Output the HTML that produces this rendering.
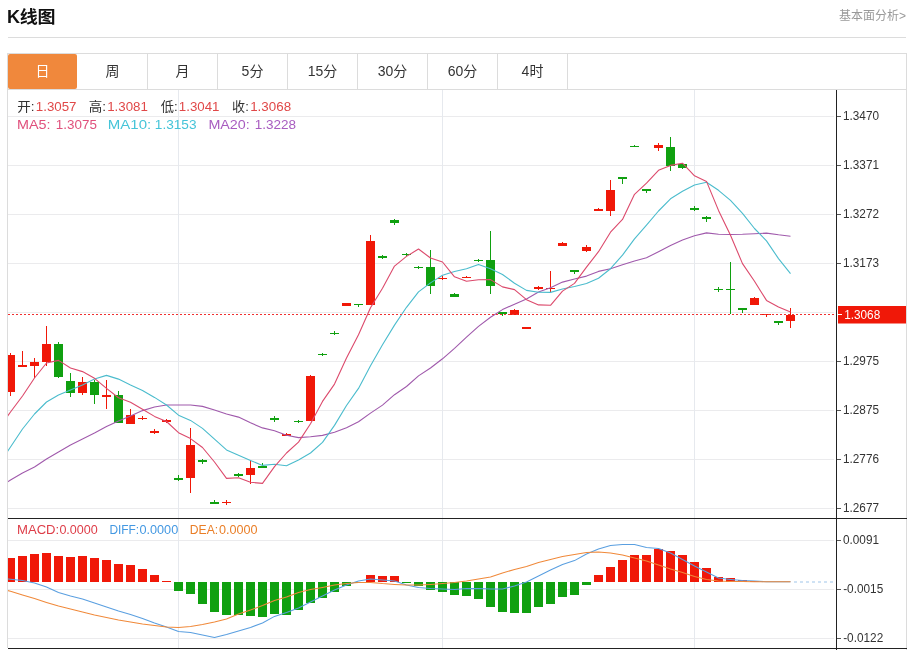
<!DOCTYPE html>
<html lang="zh-CN"><head><meta charset="utf-8"><title>K线图</title>
<style>
html,body{margin:0;padding:0;background:#fff}
body{width:910px;height:650px;position:relative;overflow:hidden;font-family:"Liberation Sans","Noto Sans CJK SC",sans-serif}
.title{position:absolute;left:7px;top:4px;font-size:18px;font-weight:bold;color:#111;line-height:26px;letter-spacing:-0.3px}
.more{position:absolute;right:4px;top:7px;font-size:12px;color:#999;line-height:18px}
.hr{position:absolute;left:8px;top:37px;width:898px;height:1px;background:#dcdcdc}
.tabs{position:absolute;left:7px;top:53px;width:898px;height:35px;border:1px solid #dcdcdc;background:#fff}
.tab{position:absolute;top:0;width:69px;height:35px;border-right:1px solid #dcdcdc;text-align:center;line-height:35px;font-size:14px;color:#333}
.tab.on{background:#f0883c;color:#fff;border-right:0;border-radius:2px;width:68.8px;height:34.5px}
</style></head><body>
<div class="title">K<span style="display:inline-block;transform:scaleY(.93);transform-origin:50% 88%">线图</span></div>
<div class="more">基本面分析&gt;</div>
<div class="hr"></div>
<div class="tabs">
<div class="tab on" style="left:0">日</div>
<div class="tab" style="left:70px">周</div>
<div class="tab" style="left:140px">月</div>
<div class="tab" style="left:210px">5分</div>
<div class="tab" style="left:280px">15分</div>
<div class="tab" style="left:350px">30分</div>
<div class="tab" style="left:420px">60分</div>
<div class="tab" style="left:490px">4时</div>
</div>
<svg width="910" height="650" viewBox="0 0 910 650" style="position:absolute;left:0;top:0" font-family="'Liberation Sans','Noto Sans CJK SC',sans-serif">
<defs><clipPath id="cm"><rect x="8" y="90" width="828" height="428"/></clipPath><clipPath id="cd"><rect x="8" y="519" width="828" height="129"/></clipPath></defs>
<path d="M8 116.5H834 M8 165.5H834 M8 214.5H834 M8 263.5H834 M8 312.5H834 M8 361.5H834 M8 410.5H834 M8 459.5H834 M8 508.5H834 M8 540.5H834 M8 589.5H834 M8 638.5H834" stroke="#ebebed" stroke-width="1" fill="none" shape-rendering="crispEdges"/>
<path d="M178.5 90V648 M442.5 90V648 M694.5 90V648" stroke="#e6e9ee" stroke-width="1" fill="none" shape-rendering="crispEdges"/>
<path d="M7.5 90V648M906.5 90V650" stroke="#dcdcdc" stroke-width="1" fill="none" shape-rendering="crispEdges"/>
<g clip-path="url(#cm)" shape-rendering="crispEdges">
<rect x="10" y="353" width="1" height="43" fill="#f01808"/>
<rect x="6" y="355" width="9" height="37" fill="#f01808"/>
<rect x="22" y="351" width="1" height="16" fill="#f01808"/>
<rect x="18" y="365" width="9" height="2" fill="#f01808"/>
<rect x="34" y="358" width="1" height="20" fill="#f01808"/>
<rect x="30" y="362" width="9" height="4" fill="#f01808"/>
<rect x="46" y="326" width="1" height="40" fill="#f01808"/>
<rect x="42" y="344" width="9" height="18" fill="#f01808"/>
<rect x="58" y="342" width="1" height="36" fill="#10a010"/>
<rect x="54" y="344" width="9" height="33" fill="#10a010"/>
<rect x="70" y="373" width="1" height="24" fill="#10a010"/>
<rect x="66" y="381" width="9" height="12" fill="#10a010"/>
<rect x="82" y="377" width="1" height="18" fill="#f01808"/>
<rect x="78" y="382" width="9" height="11" fill="#f01808"/>
<rect x="94" y="380" width="1" height="24" fill="#10a010"/>
<rect x="90" y="382" width="9" height="13" fill="#10a010"/>
<rect x="106" y="380" width="1" height="29" fill="#f01808"/>
<rect x="102" y="395" width="9" height="2" fill="#f01808"/>
<rect x="118" y="391" width="1" height="32" fill="#10a010"/>
<rect x="114" y="395" width="9" height="28" fill="#10a010"/>
<rect x="130" y="409" width="1" height="15" fill="#f01808"/>
<rect x="126" y="415" width="9" height="9" fill="#f01808"/>
<rect x="142" y="416" width="1" height="4" fill="#f01808"/>
<rect x="138" y="418" width="9" height="1" fill="#f01808"/>
<rect x="154" y="429" width="1" height="5" fill="#f01808"/>
<rect x="150" y="431" width="9" height="2" fill="#f01808"/>
<rect x="166" y="419" width="1" height="4" fill="#f01808"/>
<rect x="162" y="420" width="9" height="2" fill="#f01808"/>
<rect x="178" y="475" width="1" height="6" fill="#10a010"/>
<rect x="174" y="478" width="9" height="2" fill="#10a010"/>
<rect x="190" y="428" width="1" height="65" fill="#f01808"/>
<rect x="186" y="445" width="9" height="33" fill="#f01808"/>
<rect x="202" y="459" width="1" height="5" fill="#10a010"/>
<rect x="198" y="460" width="9" height="2" fill="#10a010"/>
<rect x="214" y="500" width="1" height="4" fill="#10a010"/>
<rect x="210" y="502" width="9" height="2" fill="#10a010"/>
<rect x="226" y="500" width="1" height="5" fill="#f01808"/>
<rect x="222" y="502" width="9" height="1" fill="#f01808"/>
<rect x="238" y="473" width="1" height="4" fill="#10a010"/>
<rect x="234" y="474" width="9" height="2" fill="#10a010"/>
<rect x="250" y="460" width="1" height="24" fill="#f01808"/>
<rect x="246" y="468" width="9" height="7" fill="#f01808"/>
<rect x="262" y="463" width="1" height="5" fill="#10a010"/>
<rect x="258" y="466" width="9" height="2" fill="#10a010"/>
<rect x="274" y="416" width="1" height="6" fill="#10a010"/>
<rect x="270" y="418" width="9" height="2" fill="#10a010"/>
<rect x="286" y="433" width="1" height="3" fill="#f01808"/>
<rect x="282" y="434" width="9" height="2" fill="#f01808"/>
<rect x="298" y="420" width="1" height="3" fill="#10a010"/>
<rect x="294" y="421" width="9" height="1" fill="#10a010"/>
<rect x="310" y="375" width="1" height="46" fill="#f01808"/>
<rect x="306" y="376" width="9" height="45" fill="#f01808"/>
<rect x="322" y="353" width="1" height="3" fill="#10a010"/>
<rect x="318" y="354" width="9" height="1" fill="#10a010"/>
<rect x="334" y="331" width="1" height="4" fill="#10a010"/>
<rect x="330" y="333" width="9" height="1" fill="#10a010"/>
<rect x="346" y="303" width="1" height="3" fill="#f01808"/>
<rect x="342" y="303" width="9" height="3" fill="#f01808"/>
<rect x="358" y="304" width="1" height="3" fill="#10a010"/>
<rect x="354" y="304" width="9" height="1" fill="#10a010"/>
<rect x="370" y="235" width="1" height="70" fill="#f01808"/>
<rect x="366" y="241" width="9" height="64" fill="#f01808"/>
<rect x="382" y="255" width="1" height="4" fill="#10a010"/>
<rect x="378" y="256" width="9" height="2" fill="#10a010"/>
<rect x="394" y="219" width="1" height="6" fill="#10a010"/>
<rect x="390" y="220" width="9" height="3" fill="#10a010"/>
<rect x="406" y="253" width="1" height="3" fill="#10a010"/>
<rect x="402" y="254" width="9" height="1" fill="#10a010"/>
<rect x="418" y="266" width="1" height="3" fill="#10a010"/>
<rect x="414" y="267" width="9" height="1" fill="#10a010"/>
<rect x="430" y="250" width="1" height="44" fill="#10a010"/>
<rect x="426" y="267" width="9" height="19" fill="#10a010"/>
<rect x="442" y="276" width="1" height="4" fill="#f01808"/>
<rect x="438" y="278" width="9" height="1" fill="#f01808"/>
<rect x="454" y="293" width="1" height="4" fill="#10a010"/>
<rect x="450" y="294" width="9" height="3" fill="#10a010"/>
<rect x="466" y="276" width="1" height="2" fill="#f01808"/>
<rect x="462" y="277" width="9" height="1" fill="#f01808"/>
<rect x="478" y="259" width="1" height="3" fill="#10a010"/>
<rect x="474" y="260" width="9" height="1" fill="#10a010"/>
<rect x="490" y="231" width="1" height="63" fill="#10a010"/>
<rect x="486" y="260" width="9" height="26" fill="#10a010"/>
<rect x="502" y="312" width="1" height="4" fill="#10a010"/>
<rect x="498" y="312" width="9" height="2" fill="#10a010"/>
<rect x="514" y="309" width="1" height="6" fill="#f01808"/>
<rect x="510" y="310" width="9" height="5" fill="#f01808"/>
<rect x="526" y="327" width="1" height="2" fill="#f01808"/>
<rect x="522" y="327" width="9" height="2" fill="#f01808"/>
<rect x="538" y="286" width="1" height="4" fill="#f01808"/>
<rect x="534" y="287" width="9" height="2" fill="#f01808"/>
<rect x="550" y="271" width="1" height="21" fill="#f01808"/>
<rect x="546" y="288" width="9" height="1" fill="#f01808"/>
<rect x="562" y="242" width="1" height="4" fill="#f01808"/>
<rect x="558" y="243" width="9" height="3" fill="#f01808"/>
<rect x="574" y="270" width="1" height="4" fill="#10a010"/>
<rect x="570" y="270" width="9" height="2" fill="#10a010"/>
<rect x="586" y="245" width="1" height="7" fill="#f01808"/>
<rect x="582" y="247" width="9" height="4" fill="#f01808"/>
<rect x="598" y="208" width="1" height="3" fill="#f01808"/>
<rect x="594" y="209" width="9" height="2" fill="#f01808"/>
<rect x="610" y="180" width="1" height="36" fill="#f01808"/>
<rect x="606" y="190" width="9" height="21" fill="#f01808"/>
<rect x="622" y="177" width="1" height="7" fill="#10a010"/>
<rect x="618" y="177" width="9" height="2" fill="#10a010"/>
<rect x="634" y="145" width="1" height="2" fill="#10a010"/>
<rect x="630" y="146" width="9" height="1" fill="#10a010"/>
<rect x="646" y="189" width="1" height="4" fill="#10a010"/>
<rect x="642" y="189" width="9" height="2" fill="#10a010"/>
<rect x="658" y="143" width="1" height="8" fill="#f01808"/>
<rect x="654" y="145" width="9" height="3" fill="#f01808"/>
<rect x="670" y="137" width="1" height="34" fill="#10a010"/>
<rect x="666" y="147" width="9" height="19" fill="#10a010"/>
<rect x="682" y="163" width="1" height="6" fill="#10a010"/>
<rect x="678" y="164" width="9" height="4" fill="#10a010"/>
<rect x="694" y="206" width="1" height="5" fill="#10a010"/>
<rect x="690" y="208" width="9" height="2" fill="#10a010"/>
<rect x="706" y="216" width="1" height="6" fill="#10a010"/>
<rect x="702" y="217" width="9" height="2" fill="#10a010"/>
<rect x="718" y="287" width="1" height="5" fill="#10a010"/>
<rect x="714" y="289" width="9" height="1" fill="#10a010"/>
<rect x="730" y="262" width="1" height="52" fill="#10a010"/>
<rect x="726" y="289" width="9" height="1" fill="#10a010"/>
<rect x="742" y="308" width="1" height="5" fill="#10a010"/>
<rect x="738" y="308" width="9" height="2" fill="#10a010"/>
<rect x="754" y="297" width="1" height="8" fill="#f01808"/>
<rect x="750" y="298" width="9" height="7" fill="#f01808"/>
<rect x="766" y="314" width="1" height="3" fill="#f01808"/>
<rect x="762" y="314" width="9" height="1" fill="#f01808"/>
<rect x="778" y="321" width="1" height="4" fill="#10a010"/>
<rect x="774" y="321" width="9" height="2" fill="#10a010"/>
<rect x="790" y="308" width="1" height="20" fill="#f01808"/>
<rect x="786" y="315" width="9" height="6" fill="#f01808"/>
</g>
<polyline points="-1.5,488.0 10.5,480.0 22.5,473.0 34.5,467.0 46.5,459.0 58.5,452.0 70.5,445.0 82.5,439.0 94.5,433.0 106.5,426.6 118.5,421.0 130.5,416.0 142.5,410.6 154.5,407.0 166.5,405.0 178.5,405.0 190.5,405.0 202.5,406.4 214.5,410.0 226.5,414.0 238.5,417.1 250.5,422.8 262.5,427.9 274.5,430.8 286.5,435.3 298.5,437.6 310.5,436.7 322.5,435.4 334.5,432.3 346.5,427.7 358.5,421.8 370.5,413.1 382.5,405.1 394.5,394.7 406.5,386.5 418.5,375.9 430.5,368.0 442.5,358.8 454.5,348.4 466.5,337.2 478.5,326.4 490.5,317.3 502.5,309.6 514.5,304.2 526.5,298.9 538.5,292.1 550.5,287.7 562.5,282.1 574.5,279.0 586.5,276.1 598.5,271.4 610.5,268.8 622.5,264.8 634.5,261.0 646.5,257.8 658.5,251.7 670.5,245.6 682.5,240.1 694.5,235.8 706.5,232.9 718.5,234.3 730.5,234.5 742.5,234.3 754.5,233.7 766.5,233.1 778.5,234.8 790.5,236.2" fill="none" stroke="#a05aac" stroke-width="1.1" stroke-linejoin="round" clip-path="url(#cm)"/>
<polyline points="-1.5,465.0 10.5,447.0 22.5,429.0 34.5,414.0 46.5,402.0 58.5,395.0 70.5,390.0 82.5,385.0 94.5,379.0 106.5,375.4 118.5,379.1 130.5,385.1 142.5,390.4 154.5,397.4 166.5,405.0 178.5,415.2 190.5,420.4 202.5,428.4 214.5,439.2 226.5,449.9 238.5,455.2 250.5,460.5 262.5,465.4 274.5,464.3 286.5,465.7 298.5,459.9 310.5,453.0 322.5,442.4 334.5,425.4 346.5,405.5 358.5,388.4 370.5,365.8 382.5,344.8 394.5,325.1 406.5,307.3 418.5,291.9 430.5,282.9 442.5,275.2 454.5,271.5 466.5,268.8 478.5,264.4 490.5,268.8 502.5,274.5 514.5,283.2 526.5,290.4 538.5,292.3 550.5,292.4 562.5,289.0 574.5,286.5 586.5,283.5 598.5,278.3 610.5,268.7 622.5,255.2 634.5,238.9 646.5,225.2 658.5,211.0 670.5,198.8 682.5,191.3 694.5,185.0 706.5,182.3 718.5,190.3 730.5,200.3 742.5,213.4 754.5,228.5 766.5,240.9 778.5,258.6 790.5,273.6" fill="none" stroke="#4bbccd" stroke-width="1.1" stroke-linejoin="round" clip-path="url(#cm)"/>
<polyline points="-1.5,429.0 10.5,412.0 22.5,396.0 34.5,378.0 46.5,363.0 58.5,360.4 70.5,368.0 82.5,371.6 94.5,378.3 106.5,388.4 118.5,397.7 130.5,402.2 142.5,409.2 154.5,416.4 166.5,421.5 178.5,432.7 190.5,438.6 202.5,447.5 214.5,462.0 226.5,478.4 238.5,477.7 250.5,482.3 262.5,483.4 274.5,466.6 286.5,453.0 298.5,442.1 310.5,423.7 322.5,401.4 334.5,384.1 346.5,358.1 358.5,334.8 370.5,307.8 382.5,288.3 394.5,266.1 406.5,256.4 418.5,249.0 430.5,258.0 442.5,262.0 454.5,276.8 466.5,281.2 478.5,279.8 490.5,279.6 502.5,286.9 514.5,289.6 526.5,299.7 538.5,304.9 550.5,305.3 562.5,291.1 574.5,283.4 586.5,267.2 598.5,251.7 610.5,232.2 622.5,219.4 634.5,194.3 646.5,183.2 658.5,170.3 670.5,165.4 682.5,163.2 694.5,175.8 706.5,181.4 718.5,210.4 730.5,235.3 742.5,263.6 754.5,281.3 766.5,300.4 778.5,306.9 790.5,312.0" fill="none" stroke="#dc4a6c" stroke-width="1.1" stroke-linejoin="round" clip-path="url(#cm)"/>
<path d="M8 314.5H835" stroke="#f03030" stroke-width="1" stroke-dasharray="2 2" fill="none" shape-rendering="crispEdges"/>
<g clip-path="url(#cd)" shape-rendering="crispEdges">
<rect x="6.0" y="558.0" width="9" height="24.0" fill="#f01808"/>
<rect x="18.0" y="556.4" width="9" height="25.6" fill="#f01808"/>
<rect x="30.0" y="554.0" width="9" height="28.0" fill="#f01808"/>
<rect x="42.0" y="552.6" width="9" height="29.4" fill="#f01808"/>
<rect x="54.0" y="556.0" width="9" height="26.0" fill="#f01808"/>
<rect x="66.0" y="556.6" width="9" height="25.4" fill="#f01808"/>
<rect x="78.0" y="555.6" width="9" height="26.4" fill="#f01808"/>
<rect x="90.0" y="558.0" width="9" height="24.0" fill="#f01808"/>
<rect x="102.0" y="560.0" width="9" height="22.0" fill="#f01808"/>
<rect x="114.0" y="564.0" width="9" height="18.0" fill="#f01808"/>
<rect x="126.0" y="565.4" width="9" height="16.6" fill="#f01808"/>
<rect x="138.0" y="569.4" width="9" height="12.6" fill="#f01808"/>
<rect x="150.0" y="575.4" width="9" height="6.6" fill="#f01808"/>
<rect x="162.0" y="581.0" width="9" height="1.0" fill="#f01808"/>
<rect x="174.0" y="582" width="9" height="9.0" fill="#10a010"/>
<rect x="186.0" y="582" width="9" height="12.0" fill="#10a010"/>
<rect x="198.0" y="582" width="9" height="21.6" fill="#10a010"/>
<rect x="210.0" y="582" width="9" height="30.4" fill="#10a010"/>
<rect x="222.0" y="582" width="9" height="32.6" fill="#10a010"/>
<rect x="234.0" y="582" width="9" height="33.0" fill="#10a010"/>
<rect x="246.0" y="582" width="9" height="34.4" fill="#10a010"/>
<rect x="258.0" y="582" width="9" height="34.6" fill="#10a010"/>
<rect x="270.0" y="582" width="9" height="31.6" fill="#10a010"/>
<rect x="282.0" y="582" width="9" height="32.6" fill="#10a010"/>
<rect x="294.0" y="582" width="9" height="28.0" fill="#10a010"/>
<rect x="306.0" y="582" width="9" height="20.6" fill="#10a010"/>
<rect x="318.0" y="582" width="9" height="15.6" fill="#10a010"/>
<rect x="330.0" y="582" width="9" height="9.6" fill="#10a010"/>
<rect x="342.0" y="582" width="9" height="3.6" fill="#10a010"/>
<rect x="354.0" y="582" width="9" height="1.0" fill="#10a010"/>
<rect x="366.0" y="574.6" width="9" height="7.4" fill="#f01808"/>
<rect x="378.0" y="576.0" width="9" height="6.0" fill="#f01808"/>
<rect x="390.0" y="576.0" width="9" height="6.0" fill="#f01808"/>
<rect x="402.0" y="582" width="9" height="1.0" fill="#10a010"/>
<rect x="414.0" y="582" width="9" height="4.4" fill="#10a010"/>
<rect x="426.0" y="582" width="9" height="8.0" fill="#10a010"/>
<rect x="438.0" y="582" width="9" height="9.6" fill="#10a010"/>
<rect x="450.0" y="582" width="9" height="13.0" fill="#10a010"/>
<rect x="462.0" y="582" width="9" height="13.6" fill="#10a010"/>
<rect x="474.0" y="582" width="9" height="17.4" fill="#10a010"/>
<rect x="486.0" y="582" width="9" height="25.0" fill="#10a010"/>
<rect x="498.0" y="582" width="9" height="30.0" fill="#10a010"/>
<rect x="510.0" y="582" width="9" height="31.0" fill="#10a010"/>
<rect x="522.0" y="582" width="9" height="30.6" fill="#10a010"/>
<rect x="534.0" y="582" width="9" height="25.0" fill="#10a010"/>
<rect x="546.0" y="582" width="9" height="21.6" fill="#10a010"/>
<rect x="558.0" y="582" width="9" height="14.6" fill="#10a010"/>
<rect x="570.0" y="582" width="9" height="12.6" fill="#10a010"/>
<rect x="582.0" y="582" width="9" height="2.6" fill="#10a010"/>
<rect x="594.0" y="575.0" width="9" height="7.0" fill="#f01808"/>
<rect x="606.0" y="567.4" width="9" height="14.6" fill="#f01808"/>
<rect x="618.0" y="560.4" width="9" height="21.6" fill="#f01808"/>
<rect x="630.0" y="555.0" width="9" height="27.0" fill="#f01808"/>
<rect x="642.0" y="554.6" width="9" height="27.4" fill="#f01808"/>
<rect x="654.0" y="548.6" width="9" height="33.4" fill="#f01808"/>
<rect x="666.0" y="551.4" width="9" height="30.6" fill="#f01808"/>
<rect x="678.0" y="554.6" width="9" height="27.4" fill="#f01808"/>
<rect x="690.0" y="562.0" width="9" height="20.0" fill="#f01808"/>
<rect x="702.0" y="568.0" width="9" height="14.0" fill="#f01808"/>
<rect x="714.0" y="577.0" width="9" height="5.0" fill="#f01808"/>
<rect x="726.0" y="578.0" width="9" height="4.0" fill="#f01808"/>
<rect x="738.0" y="580.0" width="9" height="2.0" fill="#f01808"/>
<rect x="750.0" y="580.6" width="9" height="1.4" fill="#f01808"/>
<rect x="762.0" y="581.5" width="9" height="0.5" fill="#f01808"/>
<rect x="774.0" y="581.5" width="9" height="0.5" fill="#f01808"/>
<rect x="786.0" y="581.5" width="9" height="0.5" fill="#f01808"/>
</g>
<polyline points="-1.5,578.0 10.5,579.3 22.5,580.6 34.5,583.0 46.5,587.0 58.5,592.4 70.5,596.0 82.5,599.0 94.5,603.0 106.5,607.0 118.5,611.0 130.5,614.4 142.5,618.4 154.5,623.0 166.5,627.0 178.5,631.6 190.5,632.4 202.5,635.0 214.5,637.4 226.5,634.4 238.5,631.0 250.5,627.4 262.5,623.0 274.5,616.4 286.5,612.4 298.5,608.0 310.5,602.0 322.5,596.0 334.5,590.0 346.5,585.0 358.5,581.0 370.5,579.0 382.5,580.0 394.5,581.0 406.5,585.0 418.5,587.4 430.5,588.6 442.5,589.0 454.5,589.4 466.5,588.6 478.5,588.6 490.5,589.0 502.5,589.0 514.5,586.0 526.5,582.0 538.5,576.0 550.5,570.0 562.5,564.4 574.5,560.6 586.5,554.0 598.5,549.0 610.5,545.6 622.5,544.4 634.5,544.6 646.5,547.4 658.5,548.6 670.5,553.0 682.5,559.5 694.5,566.0 706.5,572.0 718.5,578.0 730.5,579.4 742.5,580.6 754.5,581.0 766.5,581.8 778.5,581.8 790.5,581.8" fill="none" stroke="#5a9fe0" stroke-width="1.05" stroke-linejoin="round" clip-path="url(#cd)"/>
<polyline points="-1.5,588.0 10.5,591.3 22.5,595.0 34.5,598.6 46.5,602.4 58.5,606.0 70.5,609.0 82.5,612.0 94.5,615.0 106.5,617.6 118.5,620.0 130.5,622.0 142.5,624.0 154.5,625.6 166.5,627.0 178.5,627.4 190.5,626.4 202.5,624.6 214.5,622.0 226.5,619.0 238.5,614.0 250.5,610.0 262.5,605.6 274.5,600.6 286.5,597.0 298.5,592.6 310.5,589.6 322.5,587.4 334.5,585.0 346.5,583.5 358.5,582.4 370.5,582.4 382.5,583.6 394.5,584.4 406.5,585.0 418.5,585.0 430.5,584.4 442.5,583.6 454.5,582.6 466.5,581.0 478.5,579.0 490.5,577.0 502.5,573.0 514.5,569.5 526.5,566.4 538.5,562.6 550.5,559.4 562.5,556.6 574.5,554.6 586.5,552.6 598.5,552.0 610.5,553.0 622.5,555.0 634.5,558.0 646.5,561.0 658.5,565.0 670.5,569.0 682.5,572.5 694.5,576.6 706.5,579.4 718.5,581.0 730.5,581.4 742.5,581.6 754.5,581.8 766.5,581.8 778.5,581.8 790.5,581.8" fill="none" stroke="#f0893a" stroke-width="1.05" stroke-linejoin="round" clip-path="url(#cd)"/>
<path d="M794 582H835" stroke="#cfe2f4" stroke-width="2" stroke-dasharray="2.5 3.5" fill="none" shape-rendering="crispEdges"/>
<path d="M8 518.5H907M8 648.5H907M836.5 90V650" stroke="#222" stroke-width="1" fill="none" shape-rendering="crispEdges"/>
<path d="M837 116.5H841 M837 165.5H841 M837 214.5H841 M837 263.5H841 M837 361.5H841 M837 410.5H841 M837 459.5H841 M837 508.5H841 M837 540.5H841 M837 589.5H841 M837 638.5H841" stroke="#555" stroke-width="1" fill="none" shape-rendering="crispEdges"/>
<text x="843" y="120.3" font-size="12" fill="#333" textLength="36" lengthAdjust="spacingAndGlyphs">1.3470</text>
<text x="843" y="169.3" font-size="12" fill="#333" textLength="36" lengthAdjust="spacingAndGlyphs">1.3371</text>
<text x="843" y="218.3" font-size="12" fill="#333" textLength="36" lengthAdjust="spacingAndGlyphs">1.3272</text>
<text x="843" y="267.3" font-size="12" fill="#333" textLength="36" lengthAdjust="spacingAndGlyphs">1.3173</text>
<text x="843" y="365.3" font-size="12" fill="#333" textLength="36" lengthAdjust="spacingAndGlyphs">1.2975</text>
<text x="843" y="414.3" font-size="12" fill="#333" textLength="36" lengthAdjust="spacingAndGlyphs">1.2875</text>
<text x="843" y="463.3" font-size="12" fill="#333" textLength="36" lengthAdjust="spacingAndGlyphs">1.2776</text>
<text x="843" y="512.3" font-size="12" fill="#333" textLength="36" lengthAdjust="spacingAndGlyphs">1.2677</text>
<text x="843" y="544.3" font-size="12" fill="#333" textLength="36" lengthAdjust="spacingAndGlyphs">0.0091</text>
<text x="843.2" y="593.3" font-size="12" fill="#333" textLength="40" lengthAdjust="spacingAndGlyphs">-0.0015</text>
<text x="843.2" y="642.3" font-size="12" fill="#333" textLength="40" lengthAdjust="spacingAndGlyphs">-0.0122</text>
<rect x="838" y="306" width="68" height="17.5" fill="#f01808"/>
<path d="M838 314.5H842" stroke="#fff" stroke-width="1" shape-rendering="crispEdges"/>
<text x="844.2" y="319.3" font-size="12" fill="#fff" textLength="36" lengthAdjust="spacingAndGlyphs">1.3068</text>
<text x="17.3" y="110.6" font-size="13" fill="#333" textLength="17.3" lengthAdjust="spacingAndGlyphs">开:</text>
<text x="35.8" y="110.6" font-size="13" fill="#e04848" textLength="40.7" lengthAdjust="spacingAndGlyphs">1.3057</text>
<text x="88.7" y="110.6" font-size="13" fill="#333" textLength="17.3" lengthAdjust="spacingAndGlyphs">高:</text>
<text x="107.2" y="110.6" font-size="13" fill="#e04848" textLength="40.7" lengthAdjust="spacingAndGlyphs">1.3081</text>
<text x="160.7" y="110.6" font-size="13" fill="#333" textLength="16.9" lengthAdjust="spacingAndGlyphs">低:</text>
<text x="178.8" y="110.6" font-size="13" fill="#e04848" textLength="40.7" lengthAdjust="spacingAndGlyphs">1.3041</text>
<text x="232.1" y="110.6" font-size="13" fill="#333" textLength="16.7" lengthAdjust="spacingAndGlyphs">收:</text>
<text x="250.2" y="110.6" font-size="13" fill="#e04848" textLength="40.9" lengthAdjust="spacingAndGlyphs">1.3068</text>
<text x="17" y="128.6" font-size="13" fill="#e0507c" textLength="33.5" lengthAdjust="spacingAndGlyphs">MA5:</text>
<text x="55.8" y="128.6" font-size="13" fill="#e0507c" textLength="41.1" lengthAdjust="spacingAndGlyphs">1.3075</text>
<text x="107.8" y="128.6" font-size="13" fill="#45c4d8" textLength="43.4" lengthAdjust="spacingAndGlyphs">MA10:</text>
<text x="154.8" y="128.6" font-size="13" fill="#45c4d8" textLength="41.7" lengthAdjust="spacingAndGlyphs">1.3153</text>
<text x="208.4" y="128.6" font-size="13" fill="#a85cc0" textLength="41.4" lengthAdjust="spacingAndGlyphs">MA20:</text>
<text x="254.8" y="128.6" font-size="13" fill="#a85cc0" textLength="41.3" lengthAdjust="spacingAndGlyphs">1.3228</text>
<text x="17" y="533.6" font-size="13" fill="#de3d48" textLength="42.2" lengthAdjust="spacingAndGlyphs">MACD:</text>
<text x="59.4" y="533.6" font-size="13" fill="#de3d48" textLength="38.4" lengthAdjust="spacingAndGlyphs">0.0000</text>
<text x="109.4" y="533.6" font-size="13" fill="#4398e2" textLength="29.8" lengthAdjust="spacingAndGlyphs">DIFF:</text>
<text x="139.4" y="533.6" font-size="13" fill="#4398e2" textLength="38.8" lengthAdjust="spacingAndGlyphs">0.0000</text>
<text x="189.8" y="533.6" font-size="13" fill="#ea7e26" textLength="28.4" lengthAdjust="spacingAndGlyphs">DEA:</text>
<text x="219.0" y="533.6" font-size="13" fill="#ea7e26" textLength="38.6" lengthAdjust="spacingAndGlyphs">0.0000</text>
</svg>
</body></html>
